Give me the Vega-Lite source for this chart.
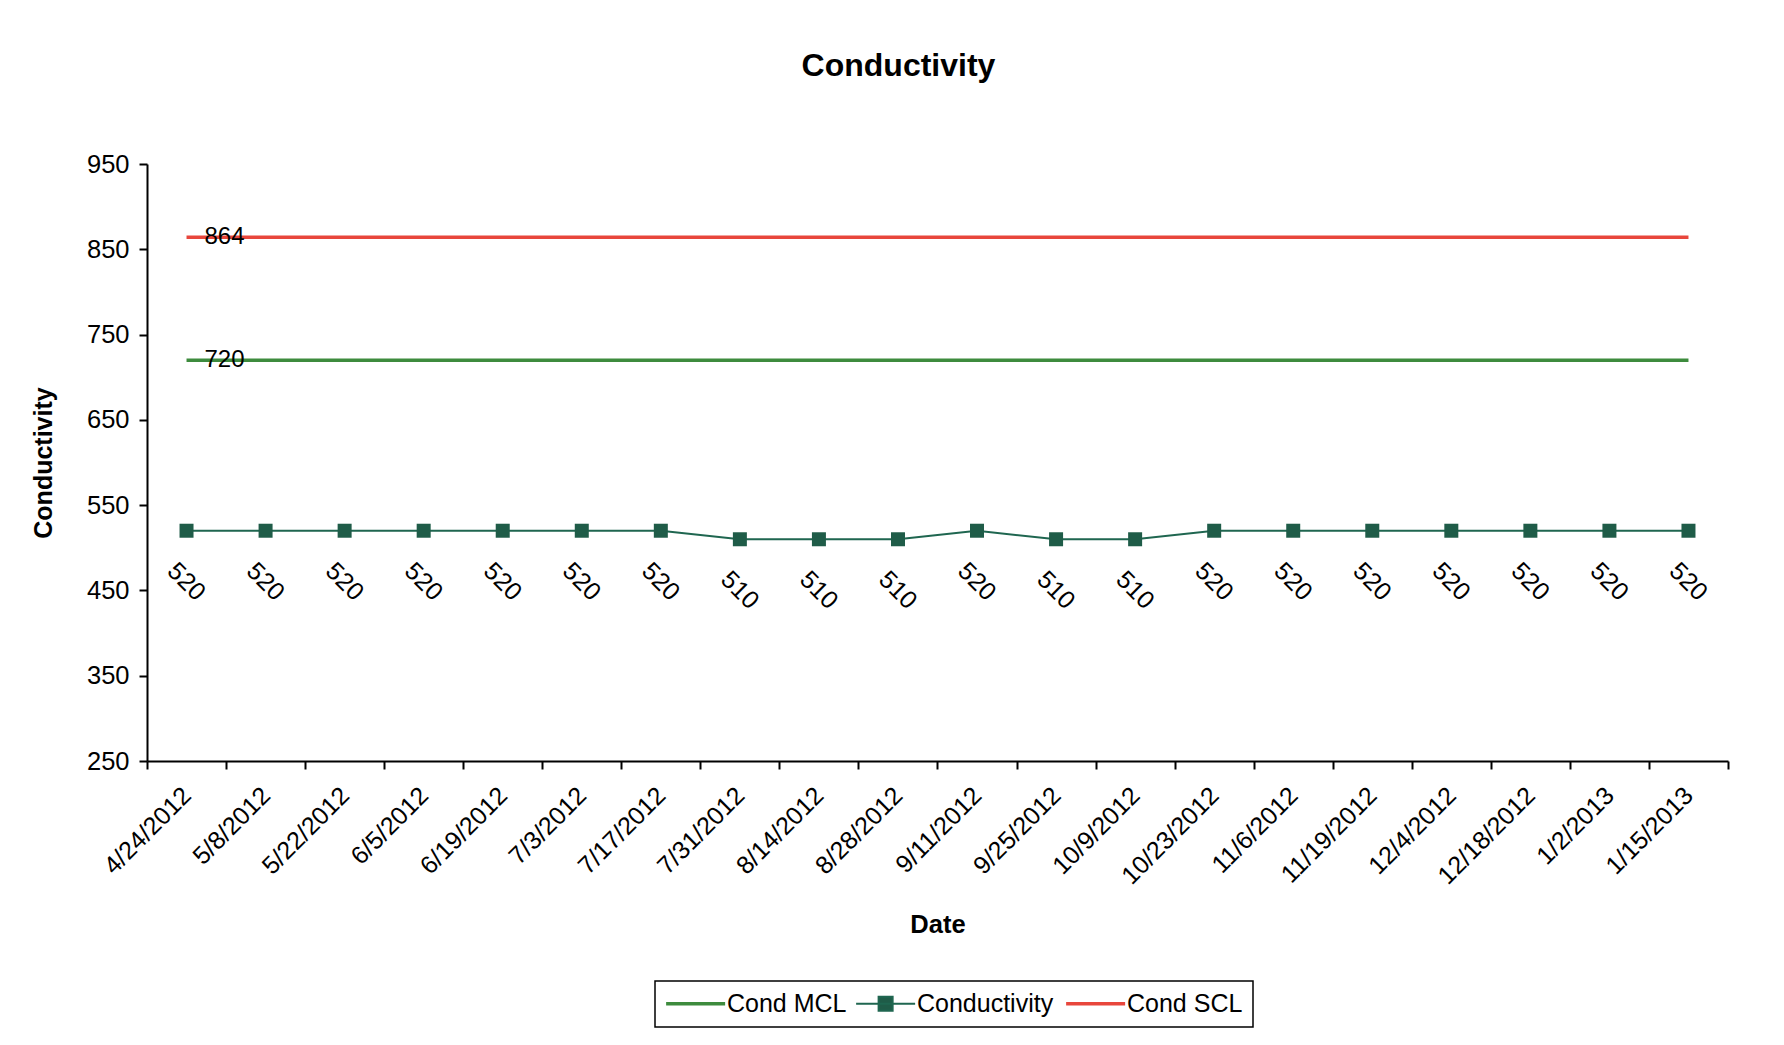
{
  "$schema": "https://vega.github.io/schema/vega-lite/v6.json",
  "width": 1581,
  "height": 597,
  "autosize": {"type": "none"},
  "padding": {"left": 147, "top": 164, "right": 56, "bottom": 284},
  "background": "white",
  "config": {
    "font": "Liberation Sans",
    "view": {"stroke": null},
    "axis": {"grid": false, "domainColor": "black", "tickColor": "black", "labelColor": "black", "titleColor": "black", "domainWidth": 2, "tickWidth": 2, "tickSize": 8, "labelFont": "Liberation Sans", "titleFont": "Liberation Sans"}
  },
  "title": {"text": "Conductivity", "fontSize": 32, "fontWeight": "bold", "font": "Liberation Sans", "color": "black", "frame": "group", "anchor": "middle", "dx": -39, "offset": 69},
  "data": {"values": [
    {"date": "4/24/2012", "series": "Cond MCL", "value": 720},
    {"date": "5/8/2012", "series": "Cond MCL", "value": 720},
    {"date": "5/22/2012", "series": "Cond MCL", "value": 720},
    {"date": "6/5/2012", "series": "Cond MCL", "value": 720},
    {"date": "6/19/2012", "series": "Cond MCL", "value": 720},
    {"date": "7/3/2012", "series": "Cond MCL", "value": 720},
    {"date": "7/17/2012", "series": "Cond MCL", "value": 720},
    {"date": "7/31/2012", "series": "Cond MCL", "value": 720},
    {"date": "8/14/2012", "series": "Cond MCL", "value": 720},
    {"date": "8/28/2012", "series": "Cond MCL", "value": 720},
    {"date": "9/11/2012", "series": "Cond MCL", "value": 720},
    {"date": "9/25/2012", "series": "Cond MCL", "value": 720},
    {"date": "10/9/2012", "series": "Cond MCL", "value": 720},
    {"date": "10/23/2012", "series": "Cond MCL", "value": 720},
    {"date": "11/6/2012", "series": "Cond MCL", "value": 720},
    {"date": "11/19/2012", "series": "Cond MCL", "value": 720},
    {"date": "12/4/2012", "series": "Cond MCL", "value": 720},
    {"date": "12/18/2012", "series": "Cond MCL", "value": 720},
    {"date": "1/2/2013", "series": "Cond MCL", "value": 720},
    {"date": "1/15/2013", "series": "Cond MCL", "value": 720},
    {"date": "4/24/2012", "series": "Conductivity", "value": 520},
    {"date": "5/8/2012", "series": "Conductivity", "value": 520},
    {"date": "5/22/2012", "series": "Conductivity", "value": 520},
    {"date": "6/5/2012", "series": "Conductivity", "value": 520},
    {"date": "6/19/2012", "series": "Conductivity", "value": 520},
    {"date": "7/3/2012", "series": "Conductivity", "value": 520},
    {"date": "7/17/2012", "series": "Conductivity", "value": 520},
    {"date": "7/31/2012", "series": "Conductivity", "value": 510},
    {"date": "8/14/2012", "series": "Conductivity", "value": 510},
    {"date": "8/28/2012", "series": "Conductivity", "value": 510},
    {"date": "9/11/2012", "series": "Conductivity", "value": 520},
    {"date": "9/25/2012", "series": "Conductivity", "value": 510},
    {"date": "10/9/2012", "series": "Conductivity", "value": 510},
    {"date": "10/23/2012", "series": "Conductivity", "value": 520},
    {"date": "11/6/2012", "series": "Conductivity", "value": 520},
    {"date": "11/19/2012", "series": "Conductivity", "value": 520},
    {"date": "12/4/2012", "series": "Conductivity", "value": 520},
    {"date": "12/18/2012", "series": "Conductivity", "value": 520},
    {"date": "1/2/2013", "series": "Conductivity", "value": 520},
    {"date": "1/15/2013", "series": "Conductivity", "value": 520},
    {"date": "4/24/2012", "series": "Cond SCL", "value": 864},
    {"date": "5/8/2012", "series": "Cond SCL", "value": 864},
    {"date": "5/22/2012", "series": "Cond SCL", "value": 864},
    {"date": "6/5/2012", "series": "Cond SCL", "value": 864},
    {"date": "6/19/2012", "series": "Cond SCL", "value": 864},
    {"date": "7/3/2012", "series": "Cond SCL", "value": 864},
    {"date": "7/17/2012", "series": "Cond SCL", "value": 864},
    {"date": "7/31/2012", "series": "Cond SCL", "value": 864},
    {"date": "8/14/2012", "series": "Cond SCL", "value": 864},
    {"date": "8/28/2012", "series": "Cond SCL", "value": 864},
    {"date": "9/11/2012", "series": "Cond SCL", "value": 864},
    {"date": "9/25/2012", "series": "Cond SCL", "value": 864},
    {"date": "10/9/2012", "series": "Cond SCL", "value": 864},
    {"date": "10/23/2012", "series": "Cond SCL", "value": 864},
    {"date": "11/6/2012", "series": "Cond SCL", "value": 864},
    {"date": "11/19/2012", "series": "Cond SCL", "value": 864},
    {"date": "12/4/2012", "series": "Cond SCL", "value": 864},
    {"date": "12/18/2012", "series": "Cond SCL", "value": 864},
    {"date": "1/2/2013", "series": "Cond SCL", "value": 864},
    {"date": "1/15/2013", "series": "Cond SCL", "value": 864}
  ]},
  "encoding": {
    "x": {"field": "date", "type": "ordinal", "sort": null, "bandPosition": 0.5,
      "scale": {"type": "band", "paddingInner": 0, "paddingOuter": 0},
      "axis": {"title": "Date", "titleFontSize": 25.5, "titleFontWeight": "bold", "titleY": 163, "titleBaseline": "middle", "labelAngle": -45, "labelAlign": "right", "labelBaseline": "middle", "labelFontSize": 25, "labelPadding": 22, "tickBand": "extent", "labelOverlap": false}},
    "y": {"field": "value", "type": "quantitative",
      "scale": {"domain": [250, 950], "nice": false, "zero": false},
      "axis": {"title": "Conductivity", "titleFontSize": 25, "titleFontWeight": "bold", "titleX": -104, "titleBaseline": "middle", "values": [250, 350, 450, 550, 650, 750, 850, 950], "labelFontSize": 25.5, "labelPadding": 10}}
  },
  "layer": [
    {
      "transform": [{"filter": "datum.series !== 'Conductivity'"}],
      "mark": {"type": "line", "strokeWidth": 3.5},
      "encoding": {
        "color": {"field": "series", "type": "nominal",
          "scale": {"domain": ["Cond MCL", "Conductivity", "Cond SCL"], "range": ["#3d8b3d", "#1f6650", "#e8463c"]},
          "legend": {"title": null, "orient": "none", "legendX": 508, "legendY": 817, "direction": "horizontal",
            "strokeColor": "black", "padding": 10, "labelFontSize": 25, "labelFont": "Liberation Sans", "labelColor": "black",
            "symbolSize": 2800, "columnPadding": 5, "labelOffset": 37, "symbolStrokeWidth": 3,
            "encode": {"symbols": {"update": {
              "shape": {"signal": "datum.value === 'Conductivity' ? 'M-0.43,0L1.8,0M0.42,-0.265L0.95,-0.265L0.95,0.265L0.42,0.265Z' : 'M-0.43,0L1.8,0'"},
              "fill": {"signal": "datum.value === 'Conductivity' ? '#1f5c48' : 'transparent'"},
              "strokeWidth": {"signal": "datum.value === 'Conductivity' ? 2 : 3.5"}}},
              "legend": {"update": {"strokeWidth": {"value": 1.5}}}}}
        }
      }
    },
    {
      "transform": [{"filter": "datum.series === 'Conductivity'"}],
      "mark": {"type": "line", "strokeWidth": 2},
      "encoding": {"color": {"field": "series", "type": "nominal"}}
    },
    {
      "transform": [{"filter": "datum.series === 'Conductivity'"}],
      "mark": {"type": "point", "shape": "square", "filled": true, "size": 196, "color": "#1f5c48", "opacity": 1}
    },
    {
      "transform": [{"filter": "datum.series === 'Conductivity'"}],
      "mark": {"type": "text", "angle": 45, "dx": 36, "dy": 36, "align": "center", "baseline": "middle", "fontSize": 25, "color": "black"},
      "encoding": {"text": {"field": "value", "type": "quantitative"}}
    },
    {
      "transform": [{"filter": "datum.series !== 'Conductivity' && datum.date === '4/24/2012'"}],
      "mark": {"type": "text", "align": "left", "dx": 18, "baseline": "middle", "fontSize": 24, "color": "black"},
      "encoding": {"text": {"field": "value", "type": "quantitative"}}
    }
  ]
}
